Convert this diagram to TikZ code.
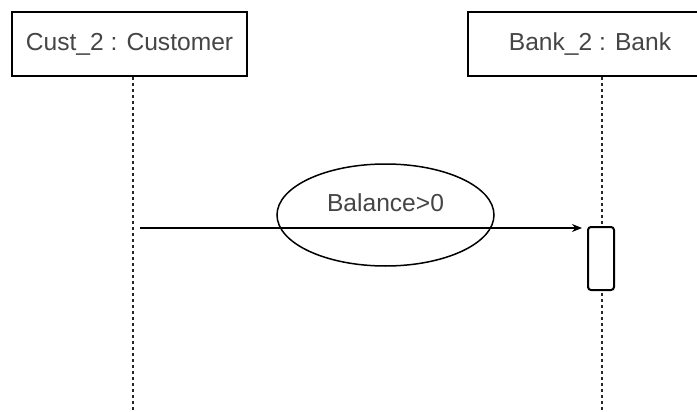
\documentclass[tikz,border=0pt]{standalone}
\usepackage{fontspec}
\setmainfont{Liberation Sans}
\usetikzlibrary{arrows.meta,positioning,calc,shapes.geometric}
\definecolor{ink}{gray}{0.27}

\tikzset{
  objbox/.style={draw=black,line width=2pt,minimum height=64pt,inner sep=0pt,
    text=ink,font=\fontsize{24.6}{28}\selectfont},
  lifeline/.style={draw=black!85,line width=1.1pt,dash pattern=on 3pt off 3pt},
  actbox/.style={draw=black,fill=white,line width=2pt,rounded corners=3pt,
    minimum width=26pt,minimum height=63pt,inner sep=0pt},
  guard/.style={draw=black,ellipse,line width=1.5pt,minimum width=217pt,
    minimum height=102pt,inner sep=0pt}
}

\begin{document}
\begin{tikzpicture}[x=1pt,y=-1pt]
\useasboundingbox (0,0) rectangle (697,412);
\node[objbox,minimum width=235pt] (cust) at (129.5,44) {Cust\_2 : Customer};
\node[objbox,minimum width=244pt] (bank) at (590,44) {Bank\_2 : Bank};
\coordinate (custend) at (133,412);
\coordinate (bankend) at (602,412);
\draw[lifeline] ([xshift=3.5pt]cust.south) -- (custend);
\draw[lifeline] ([xshift=12pt]bank.south) -- (bankend);
\node[actbox] (act) at (601,258.5) {};
\node[guard,label={[yshift=12pt,text=ink,font=\fontsize{24.6}{28}\selectfont]center:Balance>0}] (cond) at (385.5,215) {};
\coordinate (msgstart) at (140,228);
\draw[line width=1.3pt,-{Stealth[length=10pt,width=8pt]}] (msgstart) -- (msgstart -| act.west) [shorten >=5pt];
\end{tikzpicture}
\end{document}
